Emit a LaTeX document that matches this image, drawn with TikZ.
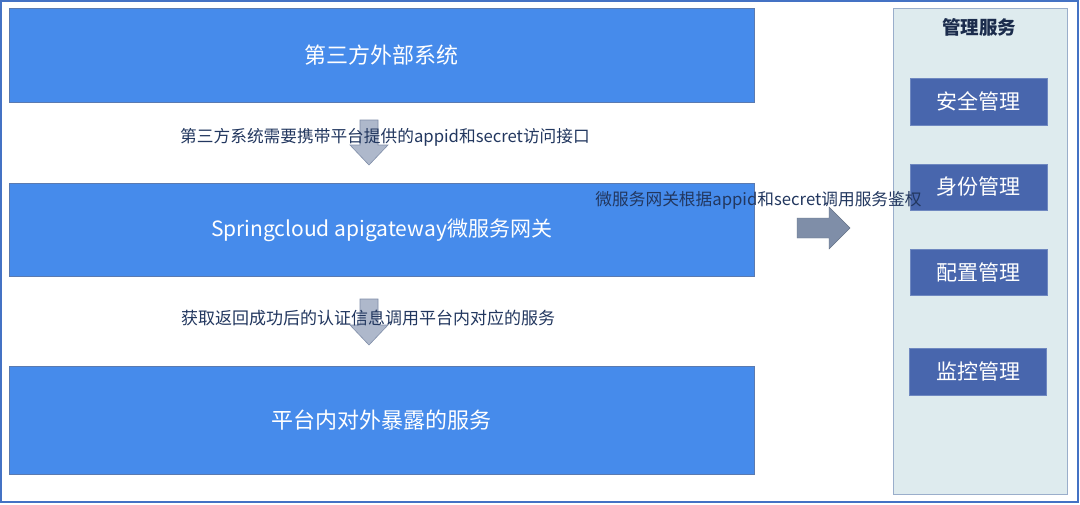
\documentclass[tikz,border=0pt]{standalone}
\usepackage{fontspec}
\setmainfont{Noto Sans CJK SC}
\definecolor{frameblue}{HTML}{4472C4}
\definecolor{mainfill}{HTML}{468BEB}
\definecolor{mainedge}{HTML}{5A7AB0}
\definecolor{labelcol}{HTML}{22375F}
\definecolor{downfill}{HTML}{AEB8CB}
\definecolor{downedge}{HTML}{7F8DA8}
\definecolor{rightfill}{HTML}{7F8EA8}
\definecolor{panelfill}{HTML}{DEEBEE}
\definecolor{paneledge}{HTML}{9AAECB}
\definecolor{subfill}{HTML}{4866AD}
\definecolor{subedge}{HTML}{6F88C0}
\tikzset{
  mainbox/.style={draw=mainedge, line width=0.8pt, fill=mainfill},
  maintext/.style={text=white, font=\fontsize{22}{26}\selectfont},
  subbox/.style={draw=subedge, line width=0.8pt, fill=subfill, text=white, font=\fontsize{21}{25}\selectfont},
  lbl/.style={text=labelcol, inner sep=0pt, font=\fontsize{16.7}{20}\selectfont},
  downarrow/.style={fill=downfill, draw=downedge, line width=0.6pt},
  rightarrow/.style={fill=rightfill, draw=rightfill!80!black, line width=0.4pt},
}
\begin{document}
\begin{tikzpicture}[x=1pt,y=-1pt]
\useasboundingbox (0,0) rectangle (1080,504);
\fill[white] (0,0) rectangle (1080,504);
% outer frame
\draw[frameblue, line width=1.2pt] (1,1) rectangle (1078,502);
% main boxes
\draw[mainbox] (9,8) rectangle (754,102);
\node[maintext] (top) at (381.5,55) {第三方外部系统};
\draw[mainbox] (9,183) rectangle (754,276);
\node[maintext, font=\fontsize{21}{25}\selectfont] (gw) at (381.5,230) {Springcloud apigateway微服务网关};
\draw[mainbox] (9,366) rectangle (754,474);
\node[maintext] (svc) at (381.5,420) {平台内对外暴露的服务};
% down arrows
\draw[downarrow] (360,120) -- (378,120) -- (378,145) -- (388,145) -- (369,165) -- (350,145) -- (360,145) -- cycle;
\draw[downarrow] (360,299) -- (378,299) -- (378,325) -- (388,325) -- (369,345) -- (350,325) -- (360,325) -- cycle;
\node[lbl] (l1) at (385,137) {第三方系统需要携带平台提供的appid和secret访问接口};
\node[lbl, font=\fontsize{17}{20}\selectfont] (l2) at (368,318) {获取返回成功后的认证信息调用平台内对应的服务};
% right panel
\draw[draw=paneledge, line width=0.8pt, fill=panelfill] (893,8) rectangle (1067,494);
\node[text=labelcol!80!black, font=\fontsize{18.5}{22}\selectfont\bfseries] (title) at (979,27) {管理服务};
\node[subbox, minimum width=137pt, minimum height=47pt] (s1) at (978.5,101.5) {安全管理};
\node[subbox, minimum width=137pt, minimum height=46pt] (s2) at (978.5,187) {身份管理};
\node[subbox, minimum width=137pt, minimum height=46pt] (s3) at (978.5,272) {配置管理};
\node[subbox, minimum width=137pt, minimum height=47pt] (s4) at (978,371.5) {监控管理};
% right arrow
\draw[rightarrow] (797,218) -- (829,218) -- (829,207) -- (850,228) -- (829,249) -- (829,238) -- (797,238) -- cycle;
\node[lbl] (l3) at (758.5,200) {微服务网关根据appid和secret调用服务鉴权};
\end{tikzpicture}
\end{document}
